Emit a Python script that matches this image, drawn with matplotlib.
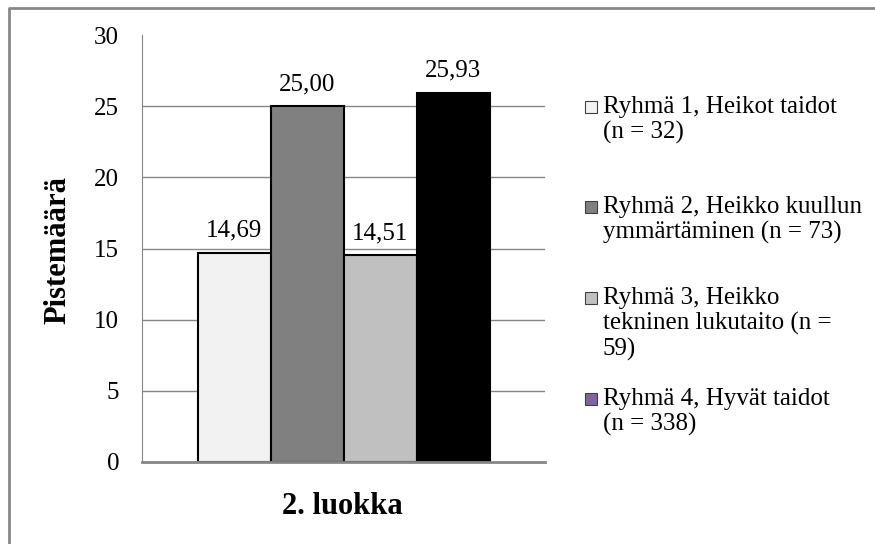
import matplotlib.pyplot as plt
from matplotlib.patches import Rectangle
from matplotlib.lines import Line2D

plt.rcParams['font.family'] = ['Liberation Serif', 'DejaVu Serif']

category = "2. luokka"
groups = [
    "Ryhmä 1, Heikot taidot\n(n = 32)",
    "Ryhmä 2, Heikko kuullun\nymmärtäminen (n = 73)",
    "Ryhmä 3, Heikko\ntekninen lukutaito (n =\n59)",
    "Ryhmä 4, Hyvät taidot\n(n = 338)",
]
scores = [14.69, 25.00, 14.51, 25.93]
bar_colors = ["#f2f2f2", "#808080", "#c0c0c0", "#000000"]
legend_colors = ["#f2f2f2", "#808080", "#c0c0c0", "#8064a2"]
yticks = [0, 5, 10, 15, 20, 25, 30]

W, H = 875, 544
fig = plt.figure(figsize=(W / 100, H / 100), dpi=100)
ax = fig.add_axes([142 / W, 1 - 462 / H, (545 - 142) / W, (462 - 35) / H])

px_per_unit = (462 - 35) / 30
width = 73 / 403
for i, (val, col) in enumerate(zip(scores, bar_colors)):
    x = (i - 1.5) * width
    ax.bar(x, val, width=width, color=col, edgecolor="black", linewidth=1.5, zorder=3)
    ax.text(x, val + 16 / px_per_unit, f"{val:.2f}".replace(".", ","),
            ha="center", va="baseline", fontsize=18, zorder=4)

ax.set_xlim(-0.5, 0.5)
ax.set_ylim(0, 30)
ax.set_yticks(yticks)
ax.set_xticks([])
ax.tick_params(axis="y", length=0, pad=16.5, labelsize=18)
for y in yticks[1:-1]:
    ax.axhline(y, color="#868686", linewidth=1, zorder=1)
for s in ["top", "right"]:
    ax.spines[s].set_visible(False)
ax.spines["left"].set_color("#868686")
ax.spines["bottom"].set_color("#868686")
ax.spines["bottom"].set_linewidth(2)
ax.spines["bottom"].set_zorder(5)

fig.text(58 / W, 1 - 250 / H, "Pistemäärä", rotation=90, ha="center", va="center",
         fontsize=22, fontweight="bold")
fig.text(342 / W, 1 - 507 / H, category, ha="center", va="center",
         fontsize=22, fontweight="bold")

# legend drawn by hand so the entry spacing follows the layout
entry_tops = [107, 207, 298, 399]
line_step = 25.5
for label, col, y0 in zip(groups, legend_colors, entry_tops):
    fig.patches.append(Rectangle((585 / W, 1 - (y0 + 6) / H), 12 / W, 12 / H,
                                 transform=fig.transFigure, facecolor=col,
                                 edgecolor="#404040", linewidth=0.8))
    for k, line in enumerate(label.split("\n")):
        fig.text(603 / W, 1 - (y0 + k * line_step) / H, line, ha="left", va="center",
                 fontsize=18)

# outer frame
fig.lines.append(Line2D([9 / W, 9 / W, 1], [0, 1 - 8 / H, 1 - 8 / H],
                        transform=fig.transFigure, color="#888888", linewidth=2))

fig.savefig("out.png", dpi=100)
